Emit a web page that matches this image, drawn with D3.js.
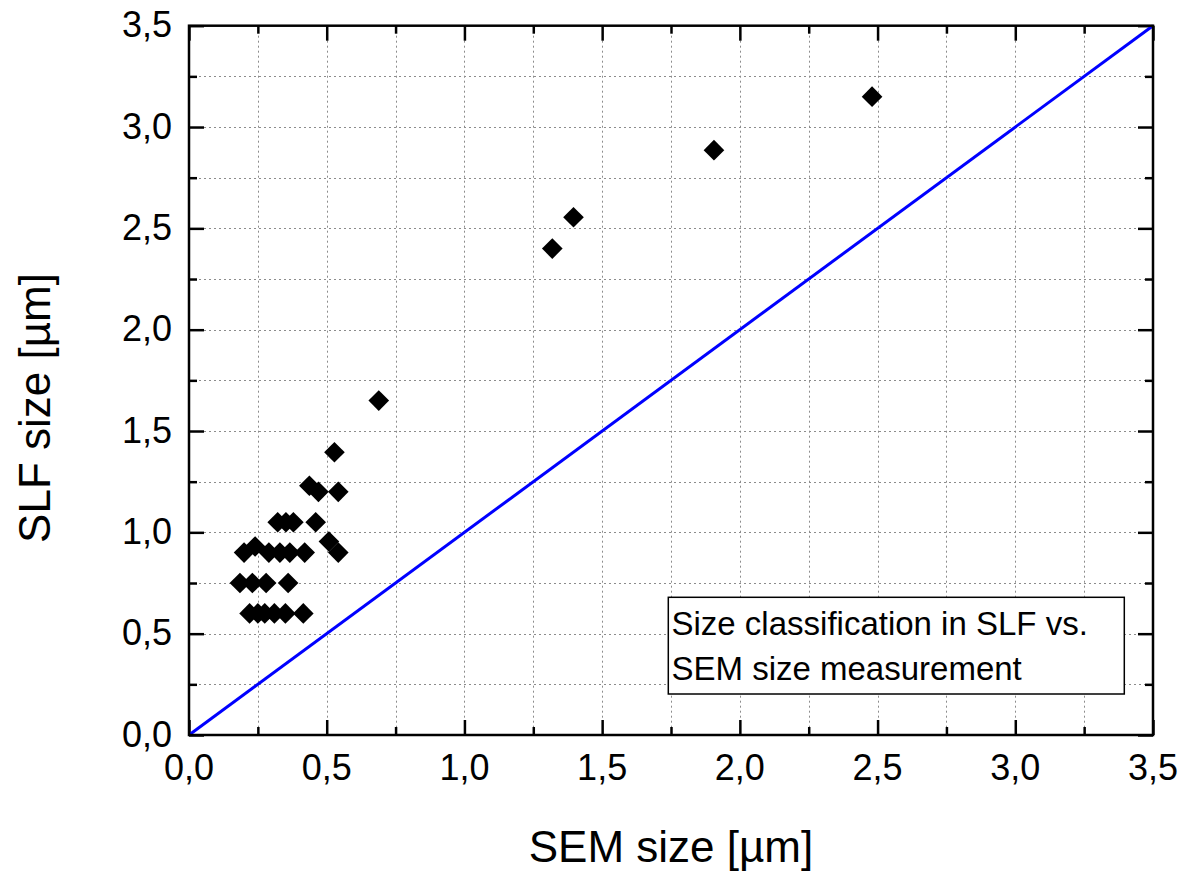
<!DOCTYPE html>
<html>
<head>
<meta charset="utf-8">
<script src="https://cdn.jsdelivr.net/npm/d3@7"></script>
<style>
  html, body { margin: 0; padding: 0; background: #fff; }
  svg { display: block; font-family: "Liberation Sans", Arial, sans-serif; }
</style>
</head>
<body>
<svg id="chart" width="1184" height="877"></svg>
<script>
// ---- data ----
const semSize = [0.20, 0.24, 0.29, 0.33, 0.366, 0.42,
                 0.185, 0.23, 0.28, 0.36,
                 0.22, 0.25, 0.275, 0.31, 0.35, 0.415,
                 0.322, 0.352, 0.379, 0.46,
                 0.437, 0.47, 0.542,
                 0.508, 0.542,
                 0.528,
                 0.689,
                 1.319, 1.396,
                 1.906,
                 2.48];
const slfSize = [0.90, 0.93, 0.90, 0.90, 0.90, 0.90,
                 0.75, 0.75, 0.75, 0.75,
                 0.60, 0.60, 0.60, 0.60, 0.60, 0.60,
                 1.05, 1.05, 1.05, 1.05,
                 1.23, 1.20, 1.20,
                 0.955, 0.90,
                 1.395,
                 1.65,
                 2.40, 2.555,
                 2.886,
                 3.15];
const refLine = [0, 3.5];
const majorTicks = [0, 0.5, 1.0, 1.5, 2.0, 2.5, 3.0, 3.5];
const minorTicks = [0.25, 0.75, 1.25, 1.75, 2.25, 2.75, 3.25];
const gridTicks = [0.25, 0.5, 0.75, 1.0, 1.25, 1.5, 1.75, 2.0, 2.25, 2.5, 2.75, 3.0, 3.25];
const xTitle = "SEM size [µm]";
const yTitle = "SLF size [µm]";
const legendLines = ["Size classification in SLF vs.", "SEM size measurement"];

// ---- layout ----
const svg = d3.select("#chart");
const L = 189, T = 25.7, W = 964, H = 709.3;
const x = d3.scaleLinear().domain([0, 3.5]).range([L, L + W]);
const y = d3.scaleLinear().domain([0, 3.5]).range([T + H, T]);
const fmt = d => d3.format(".1f")(d).replace(".", ",");

// grid
const grid = svg.append("g").attr("stroke", "#8c8c8c").attr("stroke-width", 1).attr("stroke-dasharray", "2,3");
grid.selectAll(".gx").data(gridTicks).join("line")
  .attr("x1", d => Math.round(x(d)) + 0.5).attr("x2", d => Math.round(x(d)) + 0.5)
  .attr("y1", T).attr("y2", T + H);
grid.selectAll(".gy").data(gridTicks).join("line")
  .attr("y1", d => Math.round(y(d)) + 0.5).attr("y2", d => Math.round(y(d)) + 0.5)
  .attr("x1", L).attr("x2", L + W);

// axes (ticks inward on all sides)
function axisGroup(axisFn, scale, values, size, transform) {
  const g = svg.append("g").attr("transform", transform)
    .call(axisFn(scale).tickValues(values).tickSize(size).tickFormat(""));
  g.select(".domain").remove();
  g.selectAll(".tick line").attr("stroke", "#000").attr("stroke-width", 2.5);
  return g;
}
axisGroup(d3.axisTop, x, majorTicks, 15, `translate(0,${T + H})`);
axisGroup(d3.axisTop, x, minorTicks, 8, `translate(0,${T + H})`);
axisGroup(d3.axisBottom, x, majorTicks, 15, `translate(0,${T})`);
axisGroup(d3.axisBottom, x, minorTicks, 8, `translate(0,${T})`);
axisGroup(d3.axisRight, y, majorTicks, 15, `translate(${L},0)`);
axisGroup(d3.axisRight, y, minorTicks, 8, `translate(${L},0)`);
axisGroup(d3.axisLeft, y, majorTicks, 15, `translate(${L + W},0)`);
axisGroup(d3.axisLeft, y, minorTicks, 8, `translate(${L + W},0)`);

// tick labels
svg.append("g").selectAll("text").data(majorTicks).join("text")
  .attr("x", d => x(d)).attr("y", 780)
  .attr("text-anchor", "middle").attr("font-size", 36).attr("fill", "#000")
  .text(fmt);
svg.append("g").selectAll("text").data(majorTicks).join("text")
  .attr("x", 172).attr("y", d => y(d)).attr("dy", "0.32em")
  .attr("text-anchor", "end").attr("font-size", 36).attr("fill", "#000")
  .text(fmt);

// reference line
const line = d3.line().x(d => x(d)).y(d => y(d));
svg.append("path").datum(refLine).attr("d", line)
  .attr("stroke", "#0000ff").attr("stroke-width", 3).attr("fill", "none");

// points
const sym = d3.symbol().type(d3.symbolSquare).size(213);
svg.append("g").selectAll("path").data(semSize.map((v, i) => [v, slfSize[i]])).join("path")
  .attr("d", sym)
  .attr("transform", d => `translate(${x(d[0])},${y(d[1])}) rotate(45)`)
  .attr("fill", "#000");

// frame
svg.append("rect").attr("x", L).attr("y", T).attr("width", W).attr("height", H)
  .attr("fill", "none").attr("stroke", "#000").attr("stroke-width", 2.5);

// legend box
const lg = svg.append("g");
lg.append("rect").attr("x", 668.3).attr("y", 597.3).attr("width", 456).attr("height", 96.7)
  .attr("fill", "#fff").attr("stroke", "#000").attr("stroke-width", 1.5);
lg.selectAll("text").data(legendLines).join("text")
  .attr("x", 671.5).attr("y", (d, i) => 635 + i * 45)
  .attr("font-size", 33).attr("fill", "#000").text(d => d);

// axis titles
svg.append("text").attr("x", x(1.75)).attr("y", 862).attr("text-anchor", "middle")
  .attr("font-size", 44).attr("fill", "#000").text(xTitle);
svg.append("text").attr("transform", "translate(50,408) rotate(-90)").attr("text-anchor", "middle")
  .attr("font-size", 44).attr("fill", "#000").text(yTitle);
</script>
</body>
</html>
